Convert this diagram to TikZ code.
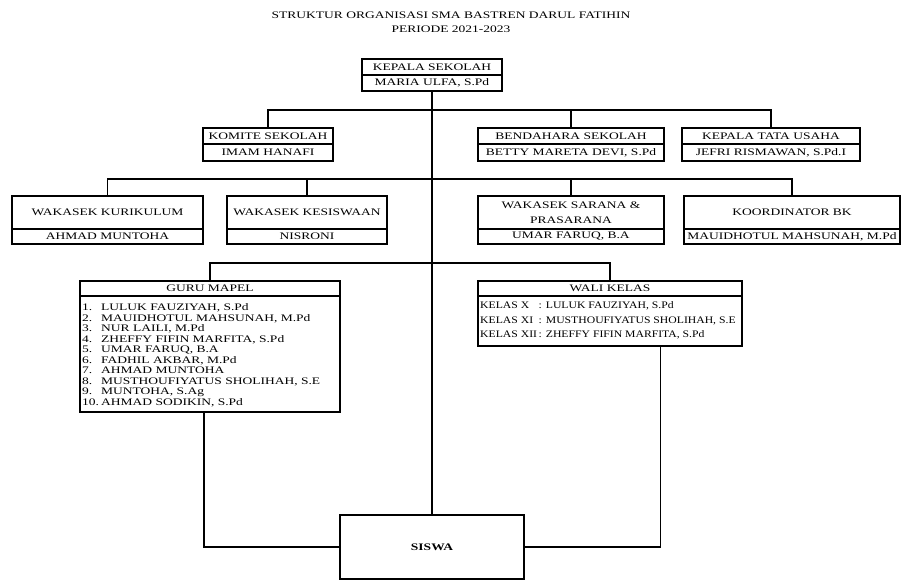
\documentclass[tikz,border=0pt]{standalone}
\usepackage{fontspec}
\setmainfont[FakeStretch=1.35]{Liberation Serif}
\newfontfamily\walifont[FakeStretch=1.17]{Liberation Serif}
\usetikzlibrary{positioning,calc}
\begin{document}
\begin{tikzpicture}[x=1pt,y=-1pt,
  every node/.style={font=\fontsize{10}{10.5}\selectfont, inner sep=0pt},
  cell/.style={draw, line width=1.6pt, minimum height=16pt, align=center},
  conn/.style={line width=1.6pt}
]
\useasboundingbox (0,0) rectangle (903,580);
% title
\node (title) at (451,22) [align=center, font=\fontsize{10}{14}\selectfont] {STRUKTUR ORGANISASI SMA BASTREN DARUL FATIHIN\\PERIODE 2021-2023};
% level 1
\node[cell, minimum width=140pt] (kepT) at (432,67) {KEPALA SEKOLAH};
\node[cell, minimum width=140pt] (kepN) at (432,83) {MARIA ULFA, S.Pd};
% level 2
\node[cell, minimum width=130pt] (komT) at (268,136) {KOMITE SEKOLAH};
\node[cell, minimum width=130pt, minimum height=17pt] (komN) at (268,152.5) {IMAM HANAFI};
\node[cell, minimum width=186pt] (benT) at (571,136) {BENDAHARA SEKOLAH};
\node[cell, minimum width=186pt, minimum height=17pt] (benN) at (571,152.5) {BETTY MARETA DEVI, S.Pd};
\node[cell, minimum width=178pt] (ktuT) at (771,136) {KEPALA TATA USAHA};
\node[cell, minimum width=178pt, minimum height=17pt] (ktuN) at (771,152.5) {JEFRI RISMAWAN, S.Pd.I};
% level 3
\node[cell, minimum width=191pt, minimum height=33pt] (wkT) at (107.5,212.5) {WAKASEK KURIKULUM};
\node[cell, minimum width=191pt, minimum height=15pt] (wkN) at (107.5,236.5) {AHMAD MUNTOHA};
\node[cell, minimum width=160pt, minimum height=33pt] (wsT) at (307,212.5) {WAKASEK KESISWAAN};
\node[cell, minimum width=160pt, minimum height=15pt] (wsN) at (307,236.5) {NISRONI};
\node[cell, minimum width=186pt, minimum height=33pt, font=\fontsize{10}{15}\selectfont] (wspT) at (571,212.5) {WAKASEK SARANA \&\\PRASARANA};
\node[cell, minimum width=186pt, minimum height=15pt] (wspN) at (571,236.5) {UMAR FARUQ, B.A};
\node[cell, minimum width=216pt, minimum height=33pt] (kbkT) at (792,212.5) {KOORDINATOR BK};
\node[cell, minimum width=216pt, minimum height=15pt] (kbkN) at (792,236.5) {MAUIDHOTUL MAHSUNAH, M.Pd};
% level 4
\node[cell, minimum width=260pt, minimum height=15pt] (guruT) at (210,288.5) {GURU MAPEL};
\node[cell, minimum width=260pt, minimum height=116pt] (guruB) at (210,354) {};
\node[anchor=north west] (guruL) at (82,303) {\fontsize{10}{10.5}\selectfont
\begin{tabular}{@{}p{19pt}@{}l@{}}
1. & LULUK FAUZIYAH, S.Pd\\
2. & MAUIDHOTUL MAHSUNAH, M.Pd\\
3. & NUR LAILI, M.Pd\\
4. & ZHEFFY FIFIN MARFITA, S.Pd\\
5. & UMAR FARUQ, B.A\\
6. & FADHIL AKBAR, M.Pd\\
7. & AHMAD MUNTOHA\\
8. & MUSTHOUFIYATUS SHOLIHAH, S.E\\
9. & MUNTOHA, S.Ag\\
10. & AHMAD SODIKIN, S.Pd
\end{tabular}};
\node[cell, minimum width=264pt, minimum height=15pt] (waliT) at (610,288.5) {WALI KELAS};
\node[cell, minimum width=264pt, minimum height=50pt] (waliB) at (610,321) {};
\node[anchor=north west] (waliL) at (480,298.5) {\walifont\fontsize{10}{14.5}\selectfont
\begin{tabular}{@{}l@{\,}l@{}}
KELAS X & : LULUK FAUZIYAH, S.Pd\\
KELAS XI & : MUSTHOUFIYATUS SHOLIHAH, S.E\\
KELAS XII & : ZHEFFY FIFIN MARFITA, S.Pd
\end{tabular}};
% siswa
\node[cell, minimum width=184pt, minimum height=64pt, font=\fontsize{10}{10.5}\selectfont\bfseries] (siswa) at (432,547) {SISWA};
% connectors
\draw[conn] (kepN.south) -- (siswa.north);
\draw[conn] (komT.north) -- (komT.north |- 0,110) -| (ktuT.north);
\draw[conn] (benT.north) -- (benT.north |- 0,110);
\draw[conn] (wkT.north) -- (wkT.north |- 0,179) -| (kbkT.north);
\draw[conn] (wsT.north) -- (wsT.north |- 0,179);
\draw[conn] (wspT.north) -- (wspT.north |- 0,179);
\draw[conn] (guruT.north) -- (guruT.north |- 0,263) -| (waliT.north);
\coordinate (gb) at ($(guruB.south west)!0.477!(guruB.south east)$);
\coordinate (wb) at ($(waliB.south west)!0.69!(waliB.south east)$);
\draw[conn] (gb) |- (siswa.west);
\draw[conn] (wb) |- (siswa.east);
\end{tikzpicture}
\end{document}
